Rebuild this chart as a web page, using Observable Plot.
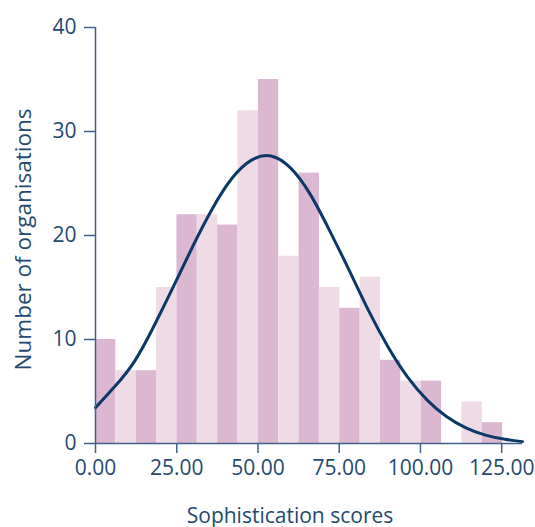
<!DOCTYPE html>
<html>
<head>
<meta charset="utf-8">
<script src="https://cdn.jsdelivr.net/npm/d3@7"></script>
<script src="https://cdn.jsdelivr.net/npm/@observablehq/plot@0.6"></script>
<style>
  html, body { margin: 0; padding: 0; background: #fff; }
  #chart svg { display: block; }
</style>
</head>
<body>
<div id="chart"></div>
<script>
// Histogram bins (edges) and counts
const binEdges = [0, 6.26, 12.53, 18.79, 25.06, 31.32, 37.59, 43.85, 50.12, 56.38, 62.65,
                  68.91, 75.18, 81.44, 87.71, 93.97, 100.24, 106.5, 112.77, 119.03, 125.3];
const counts = [10, 7, 7, 15, 22, 22, 21, 32, 35, 18, 26, 15, 13, 16, 8, 6, 6, 0, 4, 2];
const shades = ["d","l","d","l","d","l","d","l","d","l","d","l","d","l","d","l","d","l","l","d"];

// Fitted normal curve
const curveX = [0, 6, 12, 18, 24, 30, 36, 42, 48, 54, 60, 66, 72,
                78, 84, 90, 96, 102, 108, 114, 120, 126, 131.4];
const curveY = [3.45, 5.5, 7.9, 11.3, 15.1, 19.0, 22.6, 25.5, 27.25, 27.65, 26.5, 24.0, 20.5,
                16.7, 12.8, 9.3, 6.4, 4.2, 2.6, 1.5, 0.8, 0.4, 0.18];

const xTicks = [0, 25, 50, 75, 100, 125];
const yTicks = [0, 10, 20, 30, 40];
const xLabel = "Sophistication scores";
const yLabel = "Number of organisations";

const bars = counts.map((c, i) => ({x1: binEdges[i], x2: binEdges[i + 1], y: c, shade: shades[i]}));
const curve = curveX.map((x, i) => ({x, y: curveY[i]}));

const textColor = "#24496f";
const axisColor = "#3f6089";
const colors = {d: "#dcb7d2", l: "#eedbe6"};

const chart = Plot.plot({
  width: 535,
  height: 527,
  marginLeft: 95,
  marginRight: 13,
  marginTop: 27,
  marginBottom: 84,
  style: {fontFamily: "'Open Sans', sans-serif", fontSize: "21px", color: textColor, background: "#fff"},
  x: {domain: [0, 131.4]},
  y: {domain: [0, 40]},
  marks: [
    Plot.rectY(bars, {x1: "x1", x2: "x2", y: "y", fill: d => colors[d.shade]}),
    Plot.line(curve, {x: "x", y: "y", stroke: "#0b3866", strokeWidth: 3, curve: "natural"}),
    Plot.ruleX([0], {y1: 0, y2: 40, stroke: axisColor, strokeWidth: 1.5}),
    Plot.ruleY([0], {x1: 0, x2: 131.4, stroke: axisColor, strokeWidth: 1.5}),
    Plot.axisX({ticks: xTicks, tickFormat: d3.format(".2f"), tickSize: 10, tickPadding: 7,
      stroke: axisColor, strokeWidth: 1.5, fill: textColor, label: null}),
    Plot.axisY({ticks: yTicks, tickSize: 11, tickPadding: 8,
      stroke: axisColor, strokeWidth: 1.5, fill: textColor, label: null}),
    Plot.text([xLabel], {frameAnchor: "bottom", dx: -19, dy: 79, lineAnchor: "bottom", fill: textColor, fontSize: 21}),
    Plot.text([yLabel], {frameAnchor: "left", dx: -72, dy: 4, rotate: -90, textAnchor: "middle", lineAnchor: "middle", fill: textColor, fontSize: 22.5})
  ]
});
document.getElementById("chart").appendChild(chart);
</script>
</body>
</html>
